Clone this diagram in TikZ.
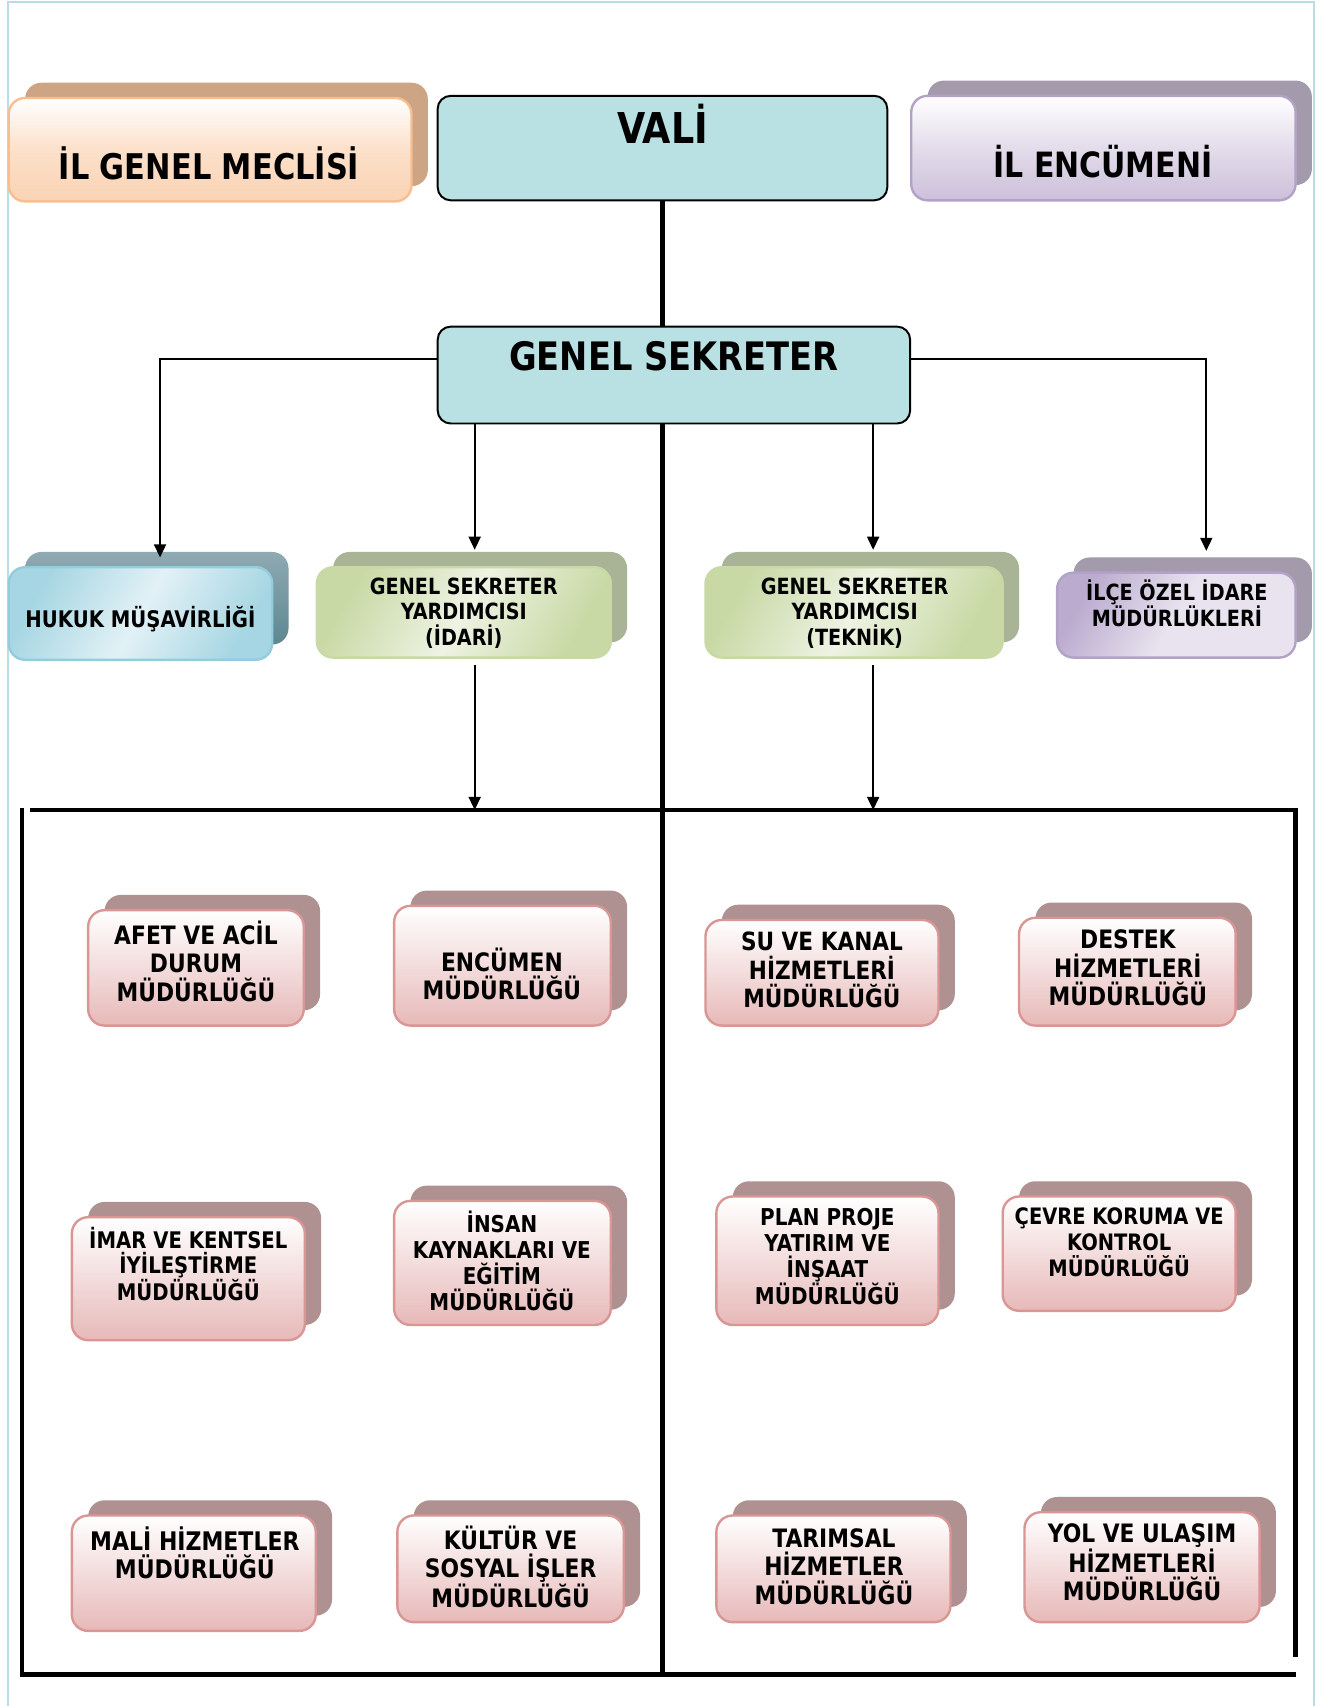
\documentclass[tikz,border=0pt]{standalone}
\usepackage{fontspec}
\setmainfont{DejaVu Sans}[FakeStretch=0.86]
\usetikzlibrary{arrows.meta}
\definecolor{tealbox}{HTML}{B9E0E3}
\definecolor{pinkback}{HTML}{AF9191}
\definecolor{pinkbot}{HTML}{E6B9B8}
\definecolor{pinkmid}{HTML}{F3DCDC}
\definecolor{pinkline}{HTML}{D99694}
\definecolor{peachback}{HTML}{CDA484}
\definecolor{peachbot}{HTML}{FAD3B4}
\definecolor{peachline}{HTML}{F9BE8F}
\definecolor{purpback}{HTML}{A39AAB}
\definecolor{purpbot}{HTML}{CCC0DA}
\definecolor{purpline}{HTML}{B3A2C7}
\definecolor{purpdiag}{HTML}{BBABCF}
\definecolor{purplite}{HTML}{E8E3EF}
\definecolor{blueback}{HTML}{8FAAB3}
\definecolor{bluebackd}{HTML}{5D8791}
\definecolor{bluediag}{HTML}{A6D6E3}
\definecolor{bluelite}{HTML}{E2F1F6}
\definecolor{blueline}{HTML}{93CDDD}
\definecolor{greenback}{HTML}{A9B396}
\definecolor{greendiag}{HTML}{C8D9A5}
\definecolor{greenlite}{HTML}{EEF3E3}
\definecolor{frameblue}{HTML}{B7DDE8}
\newcommand\fsz[2]{\fontsize{#1}{#2}\selectfont\bfseries}
% name, x1, y1, x2, y2, front style, back style
\newcommand\mkbox[7]{%
  \node[backbox,#7,minimum width={(#4-#2)*1pt},minimum height={(#5-#3)*1pt}]
    (#1b) at ({(#2+#4)/2+15},{-(#3+#5)/2+14}) {};
  \node[frontbox,#6,minimum width={(#4-#2)*1pt},minimum height={(#5-#3)*1pt}]
    (#1) at ({(#2+#4)/2},{-(#3+#5)/2}) {};
}
\tikzset{
  backbox/.style={rectangle,rounded corners=15pt,inner sep=0pt,outer sep=0pt},
  frontbox/.style={rectangle,rounded corners=15pt,inner sep=0pt,outer sep=0pt,line width=2.2pt},
  pinkF/.style={draw=pinkline,top color=white,bottom color=pinkbot,middle color=pinkmid},
  pinkB/.style={fill=pinkback},
  peachF/.style={draw=peachline,top color=white,bottom color=peachbot,middle color=peachbot!70!white},
  peachB/.style={fill=peachback},
  purpF/.style={draw=purpline,top color=white,bottom color=purpbot,middle color=purpbot!55!white},
  purpB/.style={fill=purpback},
  blueF/.style={draw=blueline,left color=bluediag,right color=bluediag,middle color=bluelite,shading angle=60},
  blueB/.style={top color=blueback,bottom color=bluebackd},
  greenF/.style={draw=greendiag,left color=greendiag,right color=greendiag,middle color=greenlite,shading angle=60},
  greenB/.style={fill=greenback},
  ilceF/.style={draw=purpline,left color=purpdiag,right color=purplite,middle color=purplite,shading angle=60},
  tealbx/.style={rectangle,rounded corners=12pt,draw=black,line width=1.8pt,fill=tealbox,inner sep=0pt,outer sep=0pt},
  txt/.style={align=center,inner sep=0pt},
  conn/.style={line width=1.6pt,-{Triangle[length=12pt,width=11pt]}},
  thickln/.style={line width=4pt},
}
\begin{document}
\begin{tikzpicture}[x=1pt,y=1pt]
\useasboundingbox (0,0) rectangle (1219,-1567);
\fill[white] (0,0) rectangle (1219,-1567);
% outer light blue border
\draw[frameblue,line width=1.8pt] (7,-1567) -- (7,-2) -- (1207,-2) -- (1207,-1567);

% top row
\mkbox{meclis}{8}{90}{378}{185}{peachF}{peachB}
\mkbox{encumeni}{837}{88}{1190}{184}{purpF}{purpB}
\node[tealbx,minimum width=413pt,minimum height=96pt] (vali) at (608.5,-136) {};
\node[tealbx,minimum width=434pt,minimum height=89pt] (gs) at (619,-344.5) {};
\node[txt,font=\fsz{32.5}{36}] (tmeclis) at (192,-150) {İL GENEL MECLİSİ};
\node[txt,font=\fsz{32}{36}] (tencumeni) at (1013,-148) {İL ENCÜMENİ};
\node[txt,font=\fsz{39}{42}] (tvali) at (608.5,-114) {VALİ};
\node[txt,font=\fsz{36}{40}] (tgs) at (619,-327) {GENEL SEKRETER};

% second row
\mkbox{hukuk}{8}{521}{250}{606}{blueF}{blueB}
\mkbox{idari}{291}{521}{561}{604}{greenF}{greenB}
\mkbox{teknik}{648}{521}{921}{604}{greenF}{greenB}
\mkbox{ilce}{971}{526}{1190}{604}{ilceF}{purpB}
\node[txt,font=\fsz{21}{26}] (thukuk) at (129,-569) {HUKUK MÜŞAVİRLİĞİ};
\node[txt,font=\fsz{20.5}{23.5}] (tidari) at (426,-563) {GENEL SEKRETER\\YARDIMCISI\\(İDARİ)};
\node[txt,font=\fsz{20.5}{23.5}] (tteknik) at (785,-563) {GENEL SEKRETER\\YARDIMCISI\\(TEKNİK)};
\node[txt,font=\fsz{20.5}{23}] (tilce) at (1081,-554) {İLÇE ÖZEL İDARE\\MÜDÜRLÜKLERİ};

% frame coordinates
\coordinate (ftl) at (28,-744);
\coordinate (ftr) at (1190,-744);
\coordinate (frb) at (1190,-1522);
\coordinate (flt) at (20,-742);
\coordinate (flb) at (20,-1540);
\coordinate (fbl) at (18,-1538);
\coordinate (fbr) at (1190,-1538);

% connectors
\draw[thickln] (vali.south) -- (vali.south |- gs.north);
\draw[thickln] (vali.south |- gs.south) -- (vali.south |- fbl);
\draw[conn,shorten >=-5pt] ([yshift=15pt]gs.west) -| ([xshift=3pt]hukukb.north);
\draw[conn,shorten >=6pt] ([yshift=15pt]gs.east) -| ([xshift=12.5pt]ilceb.north);
\coordinate (ia) at ([xshift=-5pt,yshift=2pt]idarib.north);
\coordinate (ta) at ([xshift=2.5pt,yshift=2pt]teknikb.north);
\draw[conn] (ia |- gs.south) -- (ia);
\draw[conn] (ta |- gs.south) -- (ta);
\coordinate (ib) at ([xshift=10pt,yshift=-7pt]idari.south);
\coordinate (tb) at ([xshift=17.5pt,yshift=-7pt]teknik.south);
\draw[conn] (ib) -- (ib |- ftl);
\draw[conn] (tb) -- (tb |- ftl);

% frame
\draw[thickln] (ftl) -- (ftr) -- (frb);
\draw[thickln] (flt) -- (flb);
\draw[thickln] (fbl) -- (fbr);

% müdürlükler
\mkbox{afet}{81}{836}{279}{942}{pinkF}{pinkB}
\mkbox{encumen}{362}{832}{561}{942}{pinkF}{pinkB}
\mkbox{su}{648}{845}{862}{942}{pinkF}{pinkB}
\mkbox{destek}{936}{843}{1135}{942}{pinkF}{pinkB}
\mkbox{imar}{66}{1118}{280}{1231}{pinkF}{pinkB}
\mkbox{insan}{362}{1103}{561}{1217}{pinkF}{pinkB}
\mkbox{plan}{658}{1099}{862}{1217}{pinkF}{pinkB}
\mkbox{cevre}{921}{1099}{1135}{1204}{pinkF}{pinkB}
\mkbox{mali}{66}{1392}{290}{1498}{pinkF}{pinkB}
\mkbox{kultur}{365}{1392}{573}{1490}{pinkF}{pinkB}
\mkbox{tarim}{658}{1392}{873}{1490}{pinkF}{pinkB}
\mkbox{yol}{941}{1389}{1157}{1490}{pinkF}{pinkB}

\node[txt,font=\fsz{23.3}{26}] (tafet) at (180,-883) {AFET VE ACİL\\DURUM\\MÜDÜRLÜĞÜ};
\node[txt,font=\fsz{23.3}{26}] (tencumen) at (461,-894.5) {ENCÜMEN\\MÜDÜRLÜĞÜ};
\node[txt,font=\fsz{23.1}{26}] (tsu) at (755,-891) {SU VE KANAL\\HİZMETLERİ\\MÜDÜRLÜĞÜ};
\node[txt,font=\fsz{23.3}{26}] (tdestek) at (1036,-889) {DESTEK\\HİZMETLERİ\\MÜDÜRLÜĞÜ};
\node[txt,font=\fsz{21}{23}] (timar) at (173,-1161) {İMAR VE KENTSEL\\İYİLEŞTİRME\\MÜDÜRLÜĞÜ};
\node[txt,font=\fsz{21.3}{23.7}] (tinsan) at (461,-1158) {İNSAN\\KAYNAKLARI VE\\EĞİTİM\\MÜDÜRLÜĞÜ};
\node[txt,font=\fsz{21.3}{23.7}] (tplan) at (760,-1154) {PLAN PROJE\\YATIRIM VE\\İNŞAAT\\MÜDÜRLÜĞÜ};
\node[txt,font=\fsz{20.8}{23.5}] (tcevre) at (1028,-1141) {ÇEVRE KORUMA VE\\KONTROL\\MÜDÜRLÜĞÜ};
\node[txt,font=\fsz{23.5}{26}] (tmali) at (179,-1426) {MALİ HİZMETLER\\MÜDÜRLÜĞÜ};
\node[txt,font=\fsz{23.3}{26}] (tkultur) at (469,-1439) {KÜLTÜR VE\\SOSYAL İŞLER\\MÜDÜRLÜĞÜ};
\node[txt,font=\fsz{23.3}{26}] (ttarim) at (766,-1439) {TARIMSAL\\HİZMETLER\\MÜDÜRLÜĞÜ};
\node[txt,font=\fsz{23.3}{26}] (tyol) at (1049,-1435) {YOL VE ULAŞIM\\HİZMETLERİ\\MÜDÜRLÜĞÜ};
\end{tikzpicture}
\end{document}
